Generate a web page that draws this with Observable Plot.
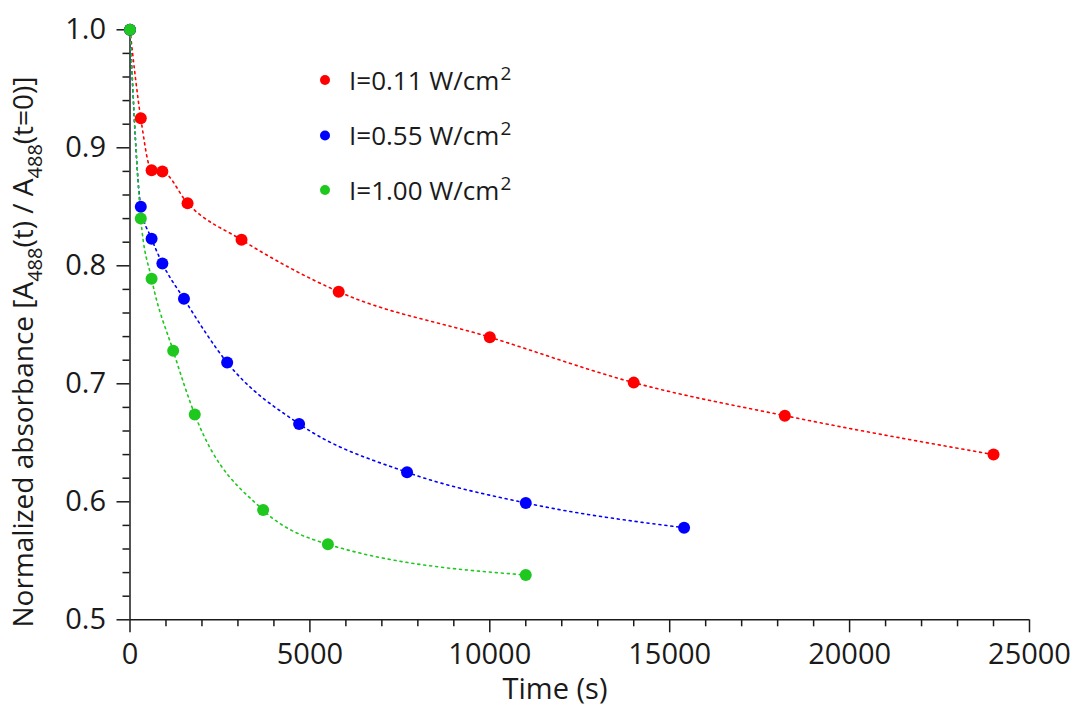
<!DOCTYPE html>
<html><head><meta charset="utf-8">
<script src="https://cdn.jsdelivr.net/npm/d3@7"></script>
<script src="https://cdn.jsdelivr.net/npm/@observablehq/plot@0.6"></script>
<style>
html,body{margin:0;padding:0;background:#fff;}
#chart{width:1077px;height:706px;}
</style></head><body><div id="chart"></div>
<script>
// ---- data ----
const seriesNames = ["I=0.11 W/cm", "I=0.55 W/cm", "I=1.00 W/cm"];
const seriesColors = ["#ff0000", "#0000ff", "#1ec81e"];
const redTime = [0, 300, 600, 900, 1600, 3100, 5800, 10000, 14000, 18200, 24000];
const redAbs  = [1.0, 0.925, 0.881, 0.880, 0.853, 0.822, 0.778, 0.7395, 0.701, 0.673, 0.640];
const blueTime = [0, 300, 600, 900, 1500, 2700, 4700, 7700, 11000, 15400];
const blueAbs  = [1.0, 0.850, 0.823, 0.802, 0.772, 0.718, 0.666, 0.625, 0.599, 0.578];
const greenTime = [0, 300, 600, 1200, 1800, 3700, 5500, 11000];
const greenAbs  = [1.0, 0.840, 0.789, 0.728, 0.674, 0.593, 0.564, 0.538];
const xMajorTicks = [0, 5000, 10000, 15000, 20000, 25000];
const xMinorTicks = [1000, 2000, 3000, 4000, 6000, 7000, 8000, 9000, 11000, 12000, 13000, 14000, 16000, 17000, 18000, 19000, 21000, 22000, 23000, 24000];
const yMajorTicks = [0.5, 0.6, 0.7, 0.8, 0.9, 1.0];
const yMinorTicks = [0.52, 0.54, 0.56, 0.58, 0.62, 0.64, 0.66, 0.68, 0.72, 0.74, 0.76, 0.78, 0.82, 0.84, 0.86, 0.88, 0.92, 0.94, 0.96, 0.98];
const xTitle = "Time (s)";

// ---- table built from the arrays ----
const series = [[redTime, redAbs], [blueTime, blueAbs], [greenTime, greenAbs]];
const rows = series.flatMap(([ts, as], i) => ts.map((t, j) => ({t, a: as[j], s: seriesNames[i]})));

const font = "'Open Sans', sans-serif";
const ink = "#1a1a1a";
const W = 1077, H = 706;
const mL = 129.5, mR = 48, mT = 29.3, mB = 86.7;

const svg = Plot.plot({
  width: W, height: H,
  marginLeft: mL, marginRight: mR, marginTop: mT, marginBottom: mB,
  style: {fontFamily: font, background: "#fff", color: ink, overflow: "visible"},
  x: {domain: [0, 25000]},
  y: {domain: [0.5, 1.0]},
  color: {domain: seriesNames, range: seriesColors},
  marks: [
    Plot.axisX({ticks: xMinorTicks, tickSize: 7, tickFormat: () => "", label: null, strokeWidth: 1.5}),
    Plot.axisX({ticks: xMajorTicks, tickSize: 13, tickPadding: 11, fontSize: 29, tickFormat: d => String(d), label: null, strokeWidth: 1.5}),
    Plot.axisY({ticks: yMinorTicks, tickSize: 7, tickFormat: () => "", label: null, strokeWidth: 1.5}),
    Plot.axisY({ticks: yMajorTicks, tickSize: 13, tickPadding: 11, fontSize: 29, tickFormat: d => d.toFixed(1), label: null, strokeWidth: 1.5}),
    Plot.ruleY([0.5], {stroke: ink, strokeWidth: 1.5}),
    Plot.ruleX([0], {stroke: ink, strokeWidth: 1.5}),
    Plot.line(rows, {x: "t", y: "a", z: "s", stroke: "s", curve: "monotone-x", strokeDasharray: "2,4", strokeWidth: 1.6}),
    Plot.dot(rows, {x: "t", y: "a", fill: "s", r: 6})
  ]
});
document.getElementById("chart").appendChild(svg);

const root = d3.select(svg);
// y-axis title with subscripts
const yt = root.append("text")
  .attr("transform", `translate(33,352) rotate(-90)`)
  .attr("text-anchor", "middle")
  .attr("font-family", font).attr("font-size", 28).attr("fill", ink);
yt.append("tspan").text("Normalized absorbance [A");
yt.append("tspan").attr("font-size", 20).attr("dy", 9).text("488");
yt.append("tspan").attr("dy", -9).text("(t) / A");
yt.append("tspan").attr("font-size", 20).attr("dy", 9).text("488");
yt.append("tspan").attr("dy", -9).text("(t=0)]");

// x-axis title
root.append("text")
  .attr("x", 555).attr("y", 699)
  .attr("text-anchor", "middle")
  .attr("font-family", font).attr("font-size", 29).attr("fill", ink)
  .text(xTitle);

// legend
const legendY = [80, 135.5, 190];
seriesNames.forEach((name, i) => {
  root.append("circle").attr("cx", 325).attr("cy", legendY[i]).attr("r", 5).attr("fill", seriesColors[i]);
  const t = root.append("text")
    .attr("x", 349).attr("y", legendY[i] + 9.5)
    .attr("text-anchor", "start")
    .attr("font-family", font).attr("font-size", 26).attr("fill", ink);
  t.append("tspan").text(name);
  t.append("tspan").attr("font-size", 19).attr("dy", -10).attr("dx", 1).text("2");
});
</script>
</body></html>
